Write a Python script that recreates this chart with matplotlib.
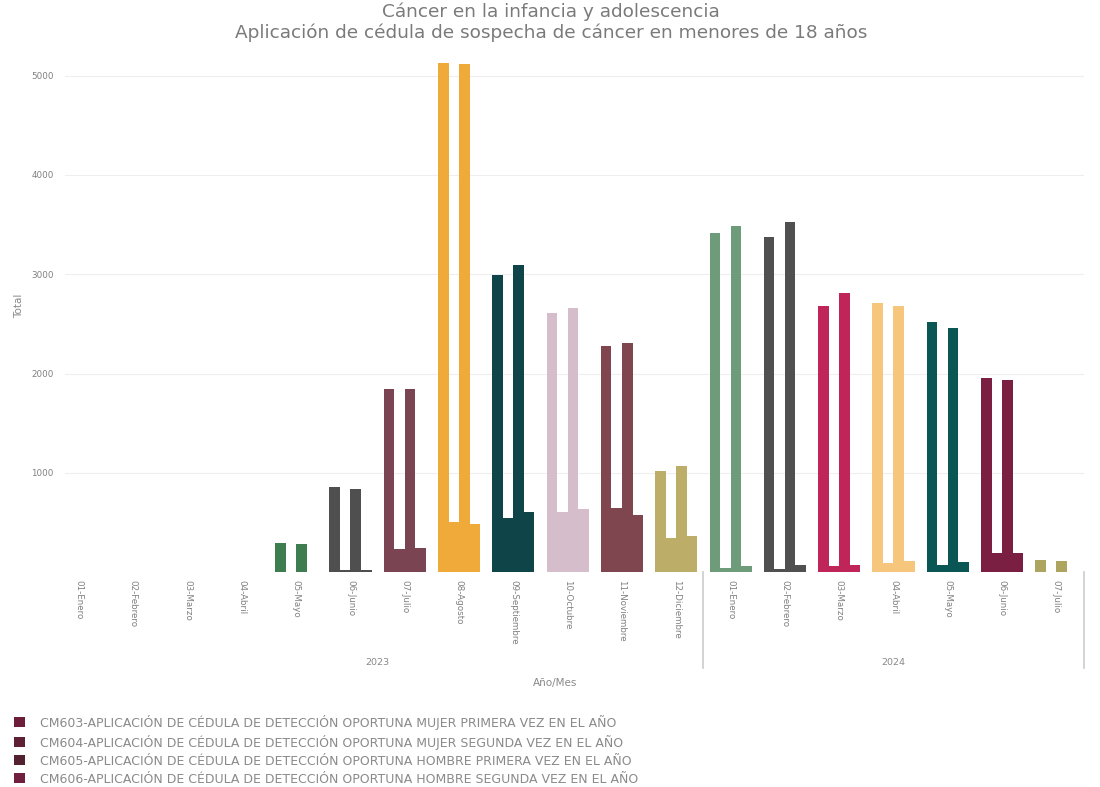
import numpy as np
import matplotlib
matplotlib.use("Agg")
import matplotlib.pyplot as plt
import matplotlib.transforms as mtransforms
from matplotlib.patches import Patch
from matplotlib.lines import Line2D

# datos
meses = ['01-Enero', '02-Febrero', '03-Marzo', '04-Abril', '05-Mayo', '06-Junio',
         '07-Julio', '08-Agosto', '09-Septiembre', '10-Octubre', '11-Noviembre',
         '12-Diciembre', '01-Enero', '02-Febrero', '03-Marzo', '04-Abril',
         '05-Mayo', '06-Junio', '07-Julio']
anios = ['2023'] * 12 + ['2024'] * 7

cm603 = [0, 0, 0, 0, 290, 860, 1845, 5125, 2990, 2615, 2275, 1015, 3415, 3375, 2680, 2715, 2515, 1955, 120]
cm604 = [0, 0, 0, 0, 2, 20, 235, 510, 545, 610, 645, 340, 40, 35, 60, 90, 75, 190, 3]
cm605 = [0, 0, 0, 0, 280, 835, 1845, 5115, 3090, 2660, 2310, 1070, 3490, 3525, 2810, 2680, 2455, 1935, 110]
cm606 = [0, 0, 0, 0, 2, 25, 245, 485, 610, 635, 575, 365, 60, 70, 75, 110, 105, 195, 3]

series = [
    ("CM603-APLICACIÓN DE CÉDULA DE DETECCIÓN OPORTUNA MUJER PRIMERA VEZ EN EL AÑO", cm603),
    ("CM604-APLICACIÓN DE CÉDULA DE DETECCIÓN OPORTUNA MUJER SEGUNDA VEZ EN EL AÑO", cm604),
    ("CM605-APLICACIÓN DE CÉDULA DE DETECCIÓN OPORTUNA HOMBRE PRIMERA VEZ EN EL AÑO", cm605),
    ("CM606-APLICACIÓN DE CÉDULA DE DETECCIÓN OPORTUNA HOMBRE SEGUNDA VEZ EN EL AÑO", cm606),
]
leg_colors = ['#6b1d3a', '#5e2035', '#52202f', '#701f3e']

# un color por mes (como en el tablero original)
colores_mes = ['#7b1e3e', '#c62a5a', '#f5c47a', '#0b5552', '#3e7d4f', '#4f4f4f',
               '#7a4452', '#f0aa3a', '#0f4548', '#d5bdcc', '#80464f', '#bcad68',
               '#6e9b79', '#505050', '#bf2558', '#f6c67d', '#0a5654', '#7a1f42', '#aca45f']

fig = plt.figure(figsize=(11.0, 7.87), dpi=100)
ax = fig.add_axes([0.059, 0.273, 0.926, 0.651])

x = np.arange(len(meses))
w = 0.194
for k, (nombre, vals) in enumerate(series):
    ax.bar(x + (k - 1.5) * w, vals, width=w, color=colores_mes, linewidth=0)

ax.set_ylim(0, 5160)
ax.set_xlim(-0.26, 18.5)
ax.set_yticks([1000, 2000, 3000, 4000, 5000])
ax.yaxis.grid(True, color='#eeeeee', linewidth=0.8)
ax.set_axisbelow(True)
for s in ax.spines.values():
    s.set_visible(False)
ax.tick_params(axis='both', length=0, labelsize=6.3, labelcolor='#808080')
ax.tick_params(axis='y', pad=8)
ax.set_xticks(x)
ax.set_xticklabels(meses, rotation=-90, va='top', ha='center')
ax.tick_params(axis='x', pad=6)

# separadores de anio
tr = mtransforms.blended_transform_factory(ax.transData, fig.transFigure)
for xs in [11.5, 18.5]:
    fig.add_artist(Line2D([xs, xs], [0.151, 0.273], transform=tr, color='#cccccc', linewidth=1.2))
for a in ['2023', '2024']:
    idx = [i for i, v in enumerate(anios) if v == a]
    ax.text(np.mean(idx), 0.158, a, transform=tr, ha='center', va='center', fontsize=6.8, color='#888888')

fig.text(0.505, 0.132, 'Año/Mes', ha='center', va='center', fontsize=7.5, color='#888888')
fig.text(0.017, 0.612, 'Total', rotation=90, ha='center', va='center', fontsize=7.5, color='#888888')

fig.text(0.501, 0.985, 'Cáncer en la infancia y adolescencia', ha='center', va='center', fontsize=13.3, color='#7a7a7a')
fig.text(0.501, 0.958, 'Aplicación de cédula de sospecha de cáncer en menores de 18 años', ha='center', va='center', fontsize=13.3, color='#7a7a7a')

handles = [Patch(facecolor=c, edgecolor='none') for c in leg_colors]
fig.legend(handles, [s[0] for s in series], loc='upper left', bbox_to_anchor=(0.007, 0.1),
           frameon=False, fontsize=9.0, labelcolor='#8a8a8a', handlelength=0.85, handleheight=0.85,
           handletextpad=1.2, labelspacing=0.4, borderpad=0)

fig.savefig('out.png', dpi=100)
